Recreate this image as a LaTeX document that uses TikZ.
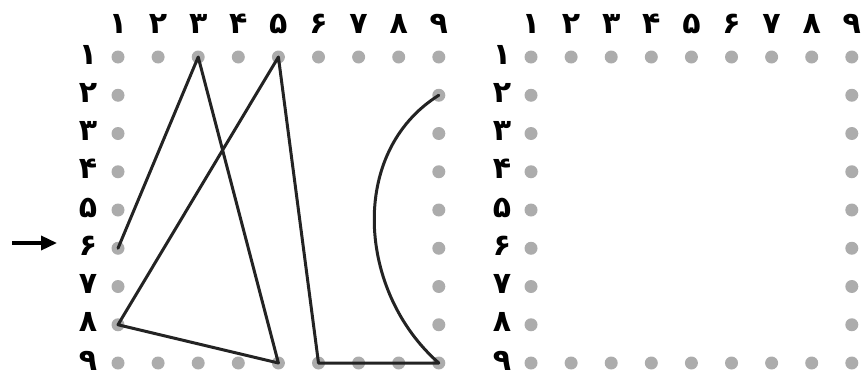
\documentclass[tikz,border=0pt]{standalone}
\usepackage{fontspec}
\newfontfamily\fadigits{DejaVu Sans}
\usetikzlibrary{arrows.meta}
\definecolor{dotgray}{RGB}{172,172,172}
\definecolor{linegray}{RGB}{35,35,35}
\begin{document}
\begin{tikzpicture}[x=1pt,y=-1pt,
  dot/.style={circle,fill=dotgray,inner sep=0pt,minimum size=13pt},
  lbl/.style={font=\fadigits\bfseries\fontsize{30}{30}\selectfont,text=black,inner sep=0pt,anchor=base},
  wire/.style={draw=linegray,line width=3pt,line join=round,line cap=round}]
\useasboundingbox (0,0) rectangle (862,383);
\foreach \g/\xo/\xl in {L/118/88, R/531/502}{
  \foreach \c/\d in {1/۱,2/۲,3/۳,4/۴,5/۵,6/۶,7/۷,8/۸,9/۹}{
    \pgfmathsetmacro\xx{\xo+40.1*(\c-1)}
    \pgfmathsetmacro\yy{57+38.25*(\c-1)}
    \node[lbl] (\g col\c) at (\xx,33) {\d};
    \node[lbl] (\g row\c) at (\xl,\yy+7) {\d};
    \node[dot] (\g-\c-1) at (\xx,57) {};
    \node[dot] (\g-\c-9) at (\xx,363) {};
  }
  \foreach \r in {2,...,8}{
    \pgfmathsetmacro\yy{57+38.25*(\r-1)}
    \node[dot] (\g-1-\r) at (\xo,\yy) {};
    \node[dot] (\g-9-\r) at (\xo+320.8,\yy) {};
  }
}
\draw[wire] (L-1-6.center) -- (L-3-1.center) -- (L-5-9.center) -- (L-1-8.center)
  -- (L-5-1.center) -- (L-6-9.center) -- (L-9-9.center)
  .. controls +(-81,-71) and +(-91,57) .. (L-9-2.center);
\coordinate (arrS) at (12,243);
\coordinate (arrE) at (57,243);
\draw[draw=black,line width=3.5pt,-{Triangle[length=16pt,width=14pt]}] (arrS) -- (arrE);
\end{tikzpicture}
\end{document}
